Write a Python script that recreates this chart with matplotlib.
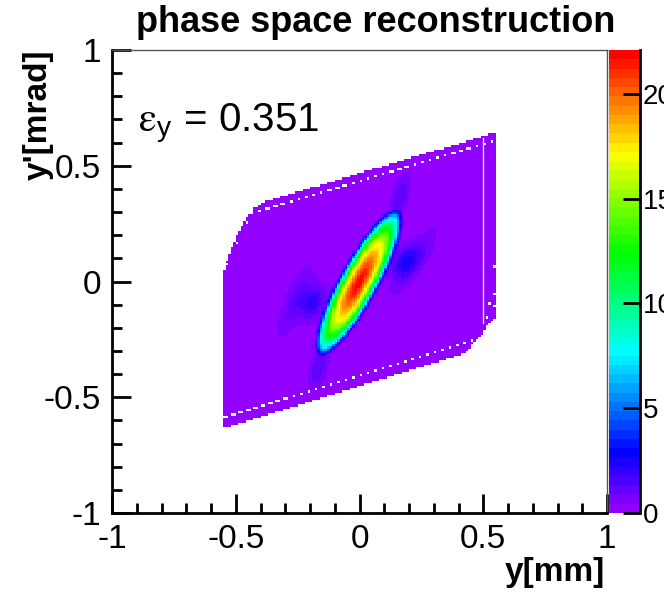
import colorsys
import numpy as np
import matplotlib
matplotlib.use("Agg")
import matplotlib.pyplot as plt
from matplotlib.colors import ListedColormap, BoundaryNorm
from matplotlib.path import Path
from matplotlib.ticker import MultipleLocator

plt.rcParams['font.family'] = ['Liberation Sans', 'DejaVu Sans']
plt.rcParams['mathtext.fontset'] = 'stix'

# ---- histogram binning ------------------------------------------------------
n_bins = 200
edges = np.linspace(-1.0, 1.0, n_bins + 1)

z_max = 22.1
n_colors = 50
background_level = 0.2

# beam core (y [mm], y' [mrad])
core_center = (-0.003, -0.004)
core_semi_axes = (0.35, 0.077)
core_angle_deg = 63.0
core_exponent = 0.68
core_plateau_share = 0.94
core_peak_width = 0.15

# faint reconstruction artefacts around the core
artifact_y = [-0.19, 0.18, -0.26, 0.22, 0.165, -0.165]
artifact_yp = [-0.09, 0.09, -0.085, 0.085, 0.37, -0.37]
artifact_sig_long = [0.05, 0.05, 0.10, 0.10, 0.06, 0.06]
artifact_sig_short = [0.03, 0.03, 0.025, 0.025, 0.02, 0.02]
artifact_angle = [70, 60, 70, 59, 78, 78]
artifact_amp = [2.0, 2.0, 1.0, 1.0, 1.2, 1.2]

# outline of the reconstructed region
outline_y = [-0.546, 0.430, 0.460, 0.494, 0.520, 0.554, 0.554,
             -0.383, -0.425, -0.460, -0.492, -0.520, -0.546]
outline_yp = [-0.633, -0.310, -0.267, -0.231, -0.181, -0.152, 0.645,
              0.345, 0.318, 0.268, 0.205, 0.140, 0.050]

# rows of empty bins running parallel to the upper and lower edges
gap_slope = [0.32, 0.331]
gap_intercept = [0.431, -0.409]

# isolated empty bins near the boundary
hole_y = [-0.503, -0.491, -0.531, -0.535, -0.450, 0.543, 0.541, 0.530, 0.547, 0.514]
hole_yp = [0.179, 0.166, 0.093, 0.071, 0.253, 0.064, -0.058, -0.094, -0.101, -0.158]

# thin empty column in the outer strip
gap_line_y = 0.5
gap_line_yp = (-0.18, 0.62)

# axes
x_ticks = [-1, -0.5, 0, 0.5, 1]
x_tick_labels = ['-1', '-0.5', '0', '0.5', '1']
y_ticks = [-1, -0.5, 0, 0.5, 1]
y_tick_labels = ['-1', '-0.5', '0', '0.5', '1']
z_ticks = [0, 5, 10, 15, 20]
z_tick_labels = ['0', '5', '10', '15', '20']

title = "phase space reconstruction"
x_title = "y[mm]"
y_title = "y'[mrad]"
emittance_text = r"$\mathrm{\varepsilon}_{\mathregular{y}}$ = 0.351"

# ---- build the histogram ----------------------------------------------------
centers = 0.5 * (edges[:-1] + edges[1:])
Y, YP = np.meshgrid(centers, centers)


def rotate(dx, dy, angle_deg):
    a = np.deg2rad(angle_deg)
    return dx * np.cos(a) + dy * np.sin(a), -dx * np.sin(a) + dy * np.cos(a)


u, v = rotate(Y - core_center[0], YP - core_center[1], core_angle_deg)
r2 = (u / core_semi_axes[0]) ** 2 + (v / core_semi_axes[1]) ** 2
density = z_max * (core_plateau_share * np.clip(1.0 - r2, 0.0, None) ** core_exponent
                   + (1 - core_plateau_share) * np.exp(-0.5 * r2 / core_peak_width ** 2))

for cy, cyp, sl, ss, ang, amp in zip(artifact_y, artifact_yp, artifact_sig_long,
                                     artifact_sig_short, artifact_angle, artifact_amp):
    au, av = rotate(Y - cy, YP - cyp, ang)
    density += amp * np.exp(-0.5 * ((au / sl) ** 2 + (av / ss) ** 2))

kernel = np.array([1.0, 2.0, 1.0]) / 4.0
density = np.apply_along_axis(lambda m: np.convolve(m, kernel, mode='same'), 0, density)
density = np.apply_along_axis(lambda m: np.convolve(m, kernel, mode='same'), 1, density)
density *= (z_max - background_level) / density.max()

outline = Path(np.column_stack([outline_y, outline_yp]))
inside = outline.contains_points(np.column_stack([Y.ravel(), YP.ravel()])).reshape(Y.shape)
H = np.where(inside, density + background_level, 0.0)

bin_w = edges[1] - edges[0]
for slope, icpt in zip(gap_slope, gap_intercept):
    t = (icpt + slope * centers - edges[0]) / bin_w
    rows = np.floor(t).astype(int)
    frac = t - rows
    for col in range(n_bins):
        if frac[col] < 0.45 and 0 <= rows[col] < n_bins:
            H[rows[col], col] = 0.0

for hy, hyp in zip(hole_y, hole_yp):
    col = int((hy - edges[0]) // bin_w)
    row = int((hyp - edges[0]) // bin_w)
    H[row, col] = 0.0

# ---- palette: 50 hues from violet to red ------------------------------------
hues = [280.0 - (i + 1) * 280.0 / n_colors for i in range(n_colors)]
palette = [colorsys.hls_to_rgb(h / 360.0, 0.5, 1.0) for h in hues]
cmap = ListedColormap(palette)
cmap.set_over(palette[-1])
norm = BoundaryNorm(np.linspace(0, z_max, n_colors + 1), n_colors)

# ---- figure -----------------------------------------------------------------
W, Hpx = 664, 594
fig = plt.figure(figsize=(W / 100, Hpx / 100), dpi=100)
ax = fig.add_axes([112 / W, 1 - 513 / Hpx, (607 - 112) / W, (513 - 50) / Hpx])

mesh = ax.pcolormesh(edges, edges, np.ma.masked_equal(H, 0.0), cmap=cmap, norm=norm,
                     antialiased=False, edgecolors='none')
ax.plot([gap_line_y, gap_line_y], gap_line_yp, color='#ead9f7', lw=1.0)

ax.set_xlim(-1, 1)
ax.set_ylim(-1, 1)
ax.set_xticks(x_ticks)
ax.set_xticklabels(x_tick_labels)
ax.set_yticks(y_ticks)
ax.set_yticklabels(y_tick_labels)
ax.xaxis.set_minor_locator(MultipleLocator(0.1))
ax.yaxis.set_minor_locator(MultipleLocator(0.1))
ax.tick_params(which='both', direction='in', top=False, right=False, width=2,
               labelsize=24, color='black')
ax.tick_params(which='major', length=14)
ax.tick_params(which='minor', length=7)
ax.tick_params(axis='x', pad=8)
ax.tick_params(axis='y', pad=8)
for s in ('left', 'bottom'):
    ax.spines[s].set_linewidth(2)
for s in ('top', 'right'):
    ax.spines[s].set_linewidth(1)
    ax.spines[s].set_color('#555555')

cax = fig.add_axes([609 / W, 1 - 513 / Hpx, 31 / W, (513 - 50) / Hpx])
cb = fig.colorbar(mesh, cax=cax, ticks=z_ticks)
cb.set_ticklabels(z_tick_labels)
cb.outline.set_visible(False)
cax.plot([1, 1], [0, 1], transform=cax.transAxes, color='black', lw=2, clip_on=False)
cax.tick_params(direction='in', length=12, width=2, labelsize=20, pad=2)
cax.minorticks_off()

fig.text(376 / W, 1 - 22 / Hpx, title, ha='center', va='center',
         fontsize=26, fontweight='bold')
fig.text(605 / W, 1 - 572 / Hpx, x_title, ha='right', va='center',
         fontsize=24, fontweight='bold')
fig.text(38 / W, 1 - 50 / Hpx, y_title, ha='center', va='top', rotation=90,
         fontsize=24, fontweight='bold')
fig.text(138 / W, 1 - 132 / Hpx, emittance_text, ha='left', va='baseline', fontsize=29)

fig.savefig("out.png", dpi=100)
